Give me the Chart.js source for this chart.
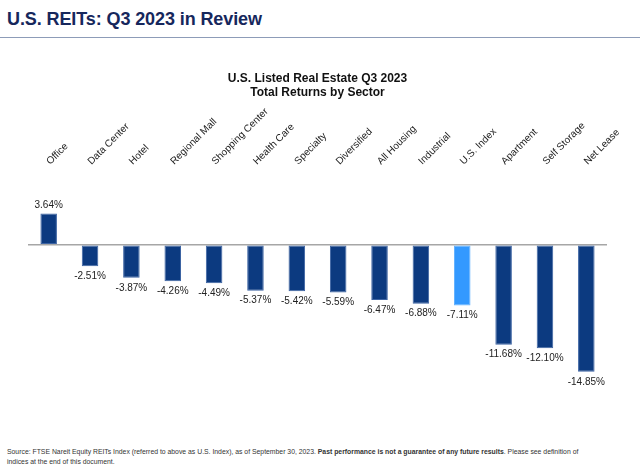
<!DOCTYPE html>
<html>
<head>
<meta charset="utf-8">
<script src="https://cdn.jsdelivr.net/npm/chart.js@4.4.7/dist/chart.umd.min.js"></script>
<style>
  html, body { margin: 0; padding: 0; background: #fff; }
  body { width: 640px; height: 470px; position: relative; overflow: hidden; font-family: "Liberation Sans", Arial, sans-serif; }
  #head { position: absolute; left: 7px; top: 9px; font-size: 18px; font-weight: bold; color: #16275c; letter-spacing: -0.1px; }
  #rule { position: absolute; left: 0; top: 37px; width: 640px; height: 1px; background: #8d9cb8; }
  #wrap { position: absolute; left: 0; top: 56px; width: 640px; height: 345px; }
  #foot { position: absolute; left: 7px; top: 447px; width: 630px; font-size: 6.85px; line-height: 10px; color: #333; }
</style>
</head>
<body>
<div id="head">U.S. REITs: Q3 2023 in Review</div>
<div id="rule"></div>
<div id="wrap"><canvas id="c"></canvas></div>
<div id="foot">Source: FTSE Nareit Equity REITs Index (referred to above as U.S. Index), as of September 30, 2023. <b>Past performance is not a guarantee of any future results</b>. Please see definition of<br>indices at the end of this document.</div>
<script>
const sectors = ['Office', 'Data Center', 'Hotel', 'Regional Mall', 'Shopping Center', 'Health Care', 'Specialty',
  'Diversified', 'All Housing', 'Industrial', 'U.S. Index', 'Apartment', 'Self Storage', 'Net Lease'];
const returns = [3.64, -2.51, -3.87, -4.26, -4.49, -5.37, -5.42, -5.59, -6.47, -6.88, -7.11, -11.68, -12.10, -14.85];
const highlight = 'U.S. Index';

const navy = '#0c3a80';
const light = '#3399ff';

const valueLabels = {
  id: 'valueLabels',
  afterDatasetsDraw(chart) {
    const ctx = chart.ctx;
    const meta = chart.getDatasetMeta(0);
    ctx.save();
    ctx.font = '10px "Liberation Sans", Arial, sans-serif';
    ctx.fillStyle = '#222';
    ctx.textAlign = 'center';
    meta.data.forEach((bar, i) => {
      const v = returns[i];
      const txt = v.toFixed(2) + '%';
      if (v >= 0) {
        ctx.textBaseline = 'bottom';
        ctx.fillText(txt, bar.x, bar.y - 3);
      } else {
        ctx.textBaseline = 'top';
        ctx.fillText(txt, bar.x, bar.y + 5);
      }
    });
    ctx.restore();
  }
};

new Chart(document.getElementById('c'), {
  type: 'bar',
  data: {
    labels: sectors,
    datasets: [{
      data: returns,
      backgroundColor: sectors.map(s => s === highlight ? light : navy),
      borderColor: sectors.map(s => s === highlight ? '#66b3ff' : '#3d64a3'),
      borderWidth: 1,
      borderSkipped: false,
      barPercentage: 0.4,
      categoryPercentage: 1
    }]
  },
  options: {
    responsive: true,
    maintainAspectRatio: false,
    animation: false,
    layout: { padding: { left: 28, right: 33, top: 0, bottom: 15 } },
    plugins: {
      legend: { display: false },
      tooltip: { enabled: false },
      title: {
        display: true,
        text: ['U.S. Listed Real Estate Q3 2023', 'Total Returns by Sector'],
        color: '#111',
        font: { family: '"Liberation Sans", Arial, sans-serif', size: 12, weight: 'bold', lineHeight: 1.2 },
        padding: { top: 15, bottom: 0 }
      }
    },
    scales: {
      x: {
        position: 'top',
        grid: { display: false },
        border: { display: false },
        ticks: {
          autoSkip: false,
          minRotation: 45,
          maxRotation: 45,
          padding: 6,
          labelOffset: 8,
          color: '#222',
          font: { family: '"Liberation Sans", Arial, sans-serif', size: 10 }
        }
      },
      y: {
        min: -16.5,
        max: 7.4,
        ticks: { display: false, stepSize: 0.1 },
        border: { display: false },
        grid: {
          drawTicks: false,
          color: c => Math.abs(c.tick.value) < 1e-9 ? '#a6a6a6' : 'rgba(0,0,0,0)',
          lineWidth: c => Math.abs(c.tick.value) < 1e-9 ? 1.5 : 0
        }
      }
    }
  },
  plugins: [valueLabels]
});
</script>
</body>
</html>
